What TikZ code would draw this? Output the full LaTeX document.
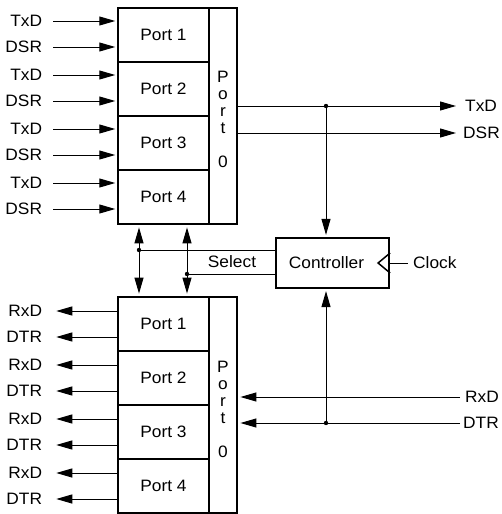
\documentclass[tikz,border=0pt]{standalone}
\usepackage{fontspec}
\setmainfont[FakeStretch=1.05]{Liberation Sans}
\usetikzlibrary{arrows.meta,positioning,calc}

\begin{document}
\begin{tikzpicture}[x=1pt,y=-1pt,
  font=\fontsize{16.5}{17}\selectfont,
  blk/.style={draw, line width=2.8pt, minimum width=119pt, minimum height=216pt, inner sep=0pt},
  port/.style={draw, line width=1.5pt, minimum width=91pt, minimum height=54pt, inner sep=0pt},
  sig/.style={inner sep=0pt},
  wire/.style={line width=1pt},
  tip/.style={-{Triangle[length=16pt,width=9pt]}, shorten >=2pt},
  bitip/.style={{Triangle[length=16pt,width=9pt]}-{Triangle[length=16pt,width=9pt]}, shorten >=2pt, shorten <=2pt}]
\useasboundingbox (0,0) rectangle (501,514);

% transmit side
\node[blk] (topblk) at (177.5,116) {};
\foreach \i in {1,...,4} {
  \node[port] (top\i) at (163.5,-19+54*\i) {Port \i};
  \node[sig, anchor=east] (txd\i) at ($(top\i.west)+(-75,-14)$) {TxD};
  \node[sig, anchor=east] (dsr\i) at ($(top\i.west)+(-75,12)$) {DSR};
  \draw[wire, tip] ([xshift=11pt]txd\i.east) -- (txd\i -| top\i.west);
  \draw[wire, tip] ([xshift=11pt]dsr\i.east) -- (dsr\i -| top\i.west);
}
\node[align=center, inner sep=0pt] (topcol) at (223,119) {P\\o\\r\\t\\[17pt]0};

\node[sig, anchor=west] (otxd) at (465,106) {TxD};
\node[sig, anchor=west] (odsr) at (463,133) {DSR};
\draw[wire, tip] (otxd -| topblk.east) -- ([xshift=-7pt]otxd.west);
\draw[wire, tip] (odsr -| topblk.east) -- ([xshift=-5pt]odsr.west);

% controller
\node[draw, line width=2.2pt, minimum width=113pt, minimum height=50pt] (ctrl) at (332.5,263) {Controller\hspace*{12pt}};
\draw[line width=1.5pt] ([yshift=10pt]ctrl.east) -- ([xshift=-12pt]ctrl.east) -- ([yshift=-10pt]ctrl.east);
\node[sig, anchor=west] (clk) at (413,263) {Clock};
\draw[wire] (ctrl.east) -- ([xshift=-5pt]clk.west);

\coordinate (split) at (326,106);
\fill (split) circle (2.2pt);
\draw[wire, tip] (split) -- (split |- ctrl.north);

% select lines
\node (sel) at (232,262) {Select};
\coordinate (sela) at (139,250);
\coordinate (selb) at (187,274);
\draw[wire] (sela) -- (sela -| ctrl.west);
\draw[wire] (selb) -- (selb -| ctrl.west);
\fill (sela) circle (2.2pt) (selb) circle (2.2pt);

% receive side
\node[blk] (botblk) at (177.5,405) {};
\foreach \i in {1,...,4} {
  \node[port] (bot\i) at (163.5,270+54*\i) {Port \i};
  \node[sig, anchor=east] (rxd\i) at ($(bot\i.west)+(-75,-13)$) {RxD};
  \node[sig, anchor=east] (dtr\i) at ($(bot\i.west)+(-75,13)$) {DTR};
  \draw[wire, tip] (rxd\i -| bot\i.west) -- ([xshift=12pt]rxd\i.east);
  \draw[wire, tip] (dtr\i -| bot\i.west) -- ([xshift=12pt]dtr\i.east);
}
\node[align=center, inner sep=0pt] (botcol) at (223,409) {P\\o\\r\\t\\[17pt]0};

\draw[wire, bitip] (sela |- topblk.south) -- (sela |- botblk.north);
\draw[wire, bitip] (selb |- topblk.south) -- (selb |- botblk.north);

\node[sig, anchor=west] (irxd) at (465,397) {RxD};
\node[sig, anchor=west] (idtr) at (463,423) {DTR};
\draw[wire, tip] ([xshift=-5pt]irxd.west) -- (irxd -| botblk.east);
\draw[wire, tip] ([xshift=-3pt]idtr.west) -- (idtr -| botblk.east);

\coordinate (join) at (326,423);
\fill (join) circle (2.2pt);
\draw[wire, tip] (join) -- (join |- ctrl.south);
\end{tikzpicture}
\end{document}
